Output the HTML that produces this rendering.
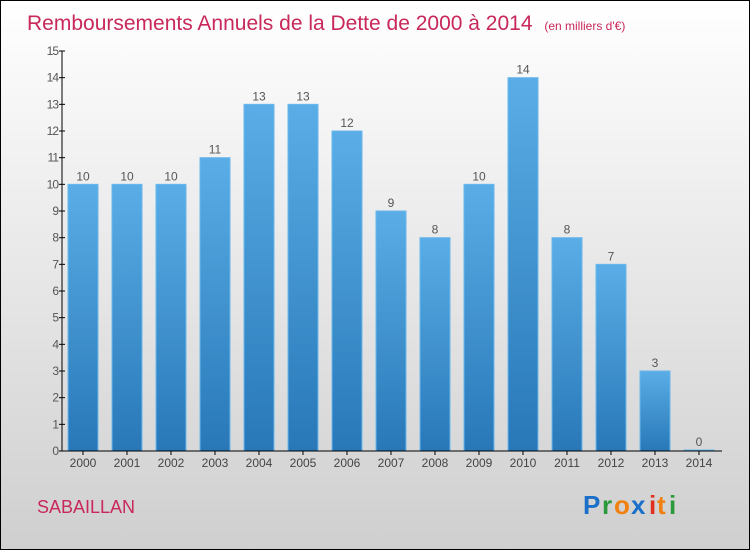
<!DOCTYPE html>
<html><head><meta charset="utf-8"><style>
body{margin:0}
#c{position:relative;width:750px;height:550px;box-sizing:border-box;border:1px solid #000;background:linear-gradient(#ffffff,#cfcfcf);font-family:"Liberation Sans",sans-serif;overflow:hidden}
</style></head><body>
<div id="c">
<svg width="748" height="548" style="position:absolute;left:0;top:0" id="svg">
<defs><linearGradient id="bg" x1="0" y1="0" x2="0" y2="1"><stop offset="0" stop-color="#5aade6"/><stop offset="1" stop-color="#2878b8"/></linearGradient></defs>
<text x="26" y="29" font-size="21" fill="#c8285a">Remboursements Annuels de la Dette de 2000 à 2014 <tspan font-size="12" dx="6">(en milliers d'€)</tspan></text>
<text x="36" y="512" font-size="18" fill="#c8285a">SABAILLAN</text>
<g id="plot"></g>
<g font-size="26" font-weight="bold"><text x="582" y="513" fill="#1a6fc8">P</text><text x="601" y="513" fill="#2a9a3a">r</text><text x="613" y="513" fill="#f08010">o</text><text x="630" y="513" fill="#1a6fc8">x</text><text x="648" y="513" fill="#e03020">i</text><text x="656" y="513" fill="#f08010">t</text><text x="668" y="513" fill="#2a9a3a">i</text></g>
</svg>
</div>
<script>
const years=["2000","2001","2002","2003","2004","2005","2006","2007","2008","2009","2010","2011","2012","2013","2014"];
const values=[10,10,10,11,13,13,12,9,8,10,14,8,7,3,0];
const yTicks=[0,1,2,3,4,5,6,7,8,9,10,11,12,13,14,15];
const NS="http://www.w3.org/2000/svg";
const g=document.getElementById('plot');
const y0=450,yTop=50,yMax=15,ax=61;
const y=v=>y0-(v/yMax)*(y0-yTop);
const xc=i=>82+i*44;
function mk(t,a,txt){const e=document.createElementNS(NS,t);for(const k in a)e.setAttribute(k,a[k]);if(txt!=null)e.textContent=txt;g.appendChild(e);return e;}
yTicks.forEach(t=>{
 const l=mk('line',{x1:ax-3,x2:ax+3,y1:y(t),y2:y(t),stroke:'#000'});
 
 
 const tx=mk('text',{x:ax-4,y:y(t)+4,'text-anchor':'end','font-size':12,fill:'#555','letter-spacing':'-1'},t);
 
 
});
values.forEach((v,i)=>{
 const h=Math.max(y0-y(v),1);
 const r=mk('rect',{x:xc(i)-15,y:y0-h,width:30,height:h,fill:'url(#bg)',stroke:'#6ab8ee','stroke-width':1});
 
 
 const t=mk('text',{x:xc(i),y:y0-h-4,'text-anchor':'middle','font-size':12,fill:'#555'},v);
 
 
 const k=mk('line',{x1:xc(i),x2:xc(i),y1:y0,y2:y0+4,stroke:'#000'});
 
 
 const xl=mk('text',{x:xc(i),y:y0+16,'text-anchor':'middle','font-size':12,fill:'#444'},years[i]);
 
 
});
const ya=mk('line',{x1:ax,x2:ax,y1:yTop,y2:y0,stroke:'#000'});


const xa=mk('line',{x1:ax,x2:721,y1:y0,y2:y0,stroke:'#000'});


</script>
</body></html>
